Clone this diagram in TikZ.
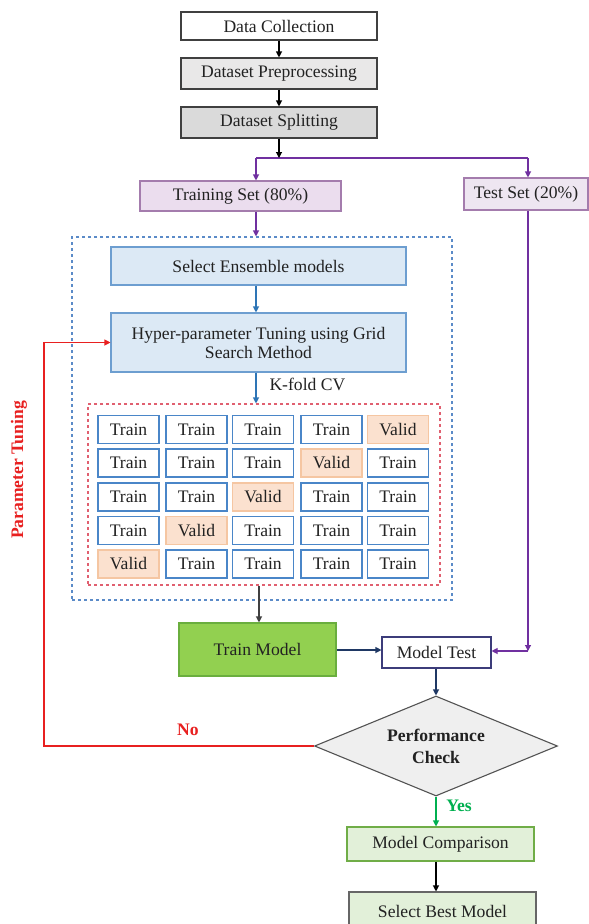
\documentclass[tikz,border=0pt]{standalone}
\usepackage{fontspec}
\setmainfont{Liberation Serif}
\usetikzlibrary{arrows.meta,shapes.geometric}
\definecolor{txt}{HTML}{222222}
\definecolor{dgrey}{HTML}{404040}
\definecolor{greyA}{HTML}{E9E8E8}
\definecolor{greyB}{HTML}{DADADA}
\definecolor{purp}{HTML}{7030A0}
\definecolor{purpB}{HTML}{A47CAD}
\definecolor{purpF}{HTML}{EBDDEE}
\definecolor{purpT}{HTML}{EEE6F1}
\definecolor{blueD}{HTML}{5B8BC8}
\definecolor{blueB}{HTML}{6D9ED0}
\definecolor{blueF}{HTML}{DCE9F5}
\definecolor{blueA}{HTML}{2E75B6}
\definecolor{cellB}{HTML}{4A86C8}
\definecolor{validF}{HTML}{FBE1CF}
\definecolor{validB}{HTML}{F5C6A2}
\definecolor{redD}{HTML}{E06070}
\definecolor{redL}{HTML}{E82020}
\definecolor{greenM}{HTML}{92D050}
\definecolor{greenMB}{HTML}{6AAE3E}
\definecolor{greenL}{HTML}{E2F0D9}
\definecolor{greenLB}{HTML}{70AD47}
\definecolor{yesG}{HTML}{00B050}
\definecolor{navy}{HTML}{1F3864}
\definecolor{navyB}{HTML}{3C3C7A}
\definecolor{diaF}{HTML}{EFEFEF}
\begin{document}
\begin{tikzpicture}[x=1pt,y=-1pt,
  every node/.style={text=txt,font=\fontsize{17.6}{20}\selectfont},
  box/.style={draw=dgrey,line width=1.1pt,inner sep=0pt,align=center},
  trainc/.style={draw=cellB,fill=white,line width=1.1pt,minimum width=61,minimum height=28,inner sep=0pt},
  validc/.style={draw=validB,fill=validF,line width=1.1pt,minimum width=61,minimum height=28,inner sep=0pt},
  tip/.style={-{Triangle[length=6pt,width=6pt]}},
  ln/.style={line width=1.1pt},
  lbl/.style={font=\fontsize{17.6}{20}\selectfont\bfseries}
]
\useasboundingbox (0,0) rectangle (589,924);
\fill[white] (0,0) rectangle (589,924);

% top chain
\node[box,fill=white,minimum width=196,minimum height=28] (dc) at (279,26) {Data Collection};
\node[box,fill=greyA,minimum width=196,minimum height=31] (pre) at (279,73.5) {Dataset Preprocessing};
\node[box,fill=greyB,minimum width=196,minimum height=31] (spl) at (279,122.5) {Dataset Splitting};
\draw[ln,tip,black] (dc) -- (pre);
\draw[ln,tip,black] (pre) -- (spl);

\coordinate (sj) at (279,158);
\coordinate (sl) at (256,158);
\coordinate (sr) at (528,158);
\node[box,draw=purpB,fill=purpF,minimum width=201,minimum height=30] (ts) at (240.5,196) {Training Set (80\%)};
\node[box,draw=purpB,fill=purpT,minimum width=124,minimum height=32] (tst) at (526,194) {Test Set (20\%)};
\draw[ln,purp] (sl) -- (sr);
\draw[ln,tip,black] (spl) -- (sj);
\draw[ln,tip,purp] (sl) -- (sl |- ts.north);
\draw[ln,tip,purp] (sr) -- (sr |- tst.north);

% blue dashed container
\node[draw=blueD,dashed,line width=1.1pt,minimum width=380,minimum height=363,inner sep=0pt] (outer) at (262,418.5) {};
\draw[ln,tip,purp] (ts.south -| sl) -- (sl |- outer.north);

\node[box,draw=blueB,fill=blueF,minimum width=295,minimum height=38] (sel) at (258.5,266) {Select Ensemble models};
\node[box,draw=blueB,fill=blueF,minimum width=295,minimum height=59] (hyp) at (258.5,342.5) {Hyper-parameter Tuning using Grid\\[-1pt]Search Method};
\draw[ln,tip,blueA] (sel.south -| sl) -- (sl |- hyp.north);

% red dashed grid container
\node[draw=redD,dashed,line width=1.1pt,minimum width=352,minimum height=181,inner sep=0pt] (grid) at (264,494.5) {};
\draw[ln,tip,blueA] (hyp.south -| sl) -- (sl |- grid.north);
\node[anchor=west] (kf) at (266,384) {K-fold CV};

% cells
\node[trainc] (c11) at (128.5,429.5) {Train};
\node[trainc] (c12) at (196.5,429.5) {Train};
\node[trainc] (c13) at (263,429.5) {Train};
\node[trainc] (c14) at (331.5,429.5) {Train};
\node[validc] (c15) at (398,429.5) {Valid};
\node[trainc] (c21) at (128.5,463) {Train};
\node[trainc] (c22) at (196.5,463) {Train};
\node[trainc] (c23) at (263,463) {Train};
\node[validc] (c24) at (331.5,463) {Valid};
\node[trainc] (c25) at (398,463) {Train};
\node[trainc] (c31) at (128.5,497) {Train};
\node[trainc] (c32) at (196.5,497) {Train};
\node[validc] (c33) at (263,497) {Valid};
\node[trainc] (c34) at (331.5,497) {Train};
\node[trainc] (c35) at (398,497) {Train};
\node[trainc] (c41) at (128.5,530.5) {Train};
\node[validc] (c42) at (196.5,530.5) {Valid};
\node[trainc] (c43) at (263,530.5) {Train};
\node[trainc] (c44) at (331.5,530.5) {Train};
\node[trainc] (c45) at (398,530.5) {Train};
\node[validc] (c51) at (128.5,564) {Valid};
\node[trainc] (c52) at (196.5,564) {Train};
\node[trainc] (c53) at (263,564) {Train};
\node[trainc] (c54) at (331.5,564) {Train};
\node[trainc] (c55) at (398,564) {Train};

% lower part
\node[box,draw=greenMB,fill=greenM,minimum width=157,minimum height=53] (tm) at (257.5,649.5) {Train Model};
\coordinate (gx) at (259,0);
\draw[ln,tip,dgrey] (grid.south -| gx) -- (gx |- tm.north);
\node[box,draw=navyB,fill=white,minimum width=109,minimum height=31] (mt) at (436.5,652.5) {Model Test};
\draw[ln,tip,navy] (tm.east |- 0,650) -- (mt.west |- 0,650);
\coordinate (tc) at (528,651);
\draw[ln,tip,purp] (tst.south -| tc) -- (tc);
\draw[ln,tip,purp] (tc) -- (mt.east |- tc);

\node[diamond,draw=dgrey!90,fill=diaF,line width=1.1pt,minimum width=243,minimum height=100,inner sep=0pt,shape aspect=2.43,align=center,font=\fontsize{17.6}{22}\selectfont\bfseries] (pc) at (436,746) {Performance\\Check};
\draw[ln,tip,navy] (mt.south -| pc) -- (pc.north);

\coordinate (nb) at (44,746);
\draw[ln,tip,redL] (pc.west) -- (nb) |- (hyp.west);
\node[lbl,text=redL] (no) at (188,730) {No};
\node[lbl,text=redL,rotate=90] (pt) at (19,470) {Parameter Tuning};

\node[box,draw=greenLB,fill=greenL,minimum width=187,minimum height=34] (mc) at (440.5,844) {Model Comparison};
\draw[ln,tip,yesG] (pc.south) -- (pc.south |- mc.north);
\node[lbl,text=yesG] (yes) at (459,806) {Yes};
\node[box,draw=dgrey!80,fill=greenL,minimum width=187,minimum height=38] (sb) at (442.5,911) {Select Best Model};
\draw[ln,tip,black] (mc.south -| pc) -- (pc |- sb.north);
\end{tikzpicture}
\end{document}
